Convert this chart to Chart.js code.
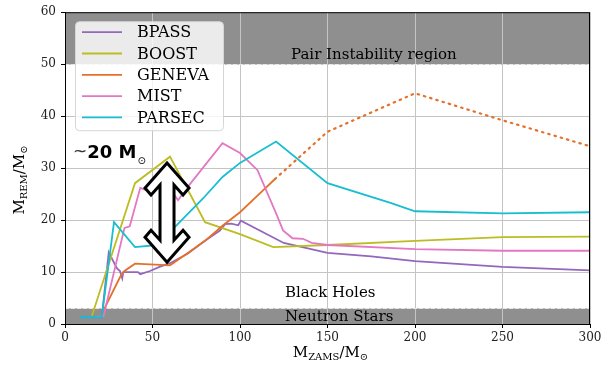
<!DOCTYPE html>
<html>
<head>
<meta charset="utf-8">
<script src="https://cdn.jsdelivr.net/npm/chart.js@4/dist/chart.umd.min.js"></script>
<style>
  html, body { margin: 0; padding: 0; background: #fff; }
  #wrap { width: 608px; height: 367px; }
</style>
</head>
<body>
<div id="wrap"><canvas id="chart"></canvas></div>
<script>
'use strict';

// remnant mass vs ZAMS mass
const bpassX = [9, 21, 25, 29.7, 31.4, 32.7, 33.3, 41.7, 43, 48.6, 54, 60, 70, 80, 88.5, 91.5, 95, 99, 100.5, 125, 150, 175, 200, 250, 300];
const bpassY = [1.3, 1.3, 13.8, 10.7, 10.2, 8.8, 10, 10, 9.6, 10.2, 11, 11.7, 13.5, 16, 18, 19.2, 19.3, 19, 19.9, 15.6, 13.7, 13.0, 12.1, 11.0, 10.3];

const boostX = [15.4, 40, 60, 77, 80, 100, 119, 150, 200, 250, 300];
const boostY = [1.6, 27.1, 32.2, 21.5, 19.6, 17.3, 14.8, 15.2, 16.0, 16.7, 16.8];

const genevaX = [21, 23, 31.4, 34, 40, 60, 70, 80, 90, 100, 110, 120];
const genevaY = [1.3, 3.3, 9, 10.2, 11.6, 11.3, 13.6, 16.0, 18.9, 21.5, 24.7, 27.9];
// extrapolated part (dotted)
const genevaExtX = [120, 150, 200, 250, 300];
const genevaExtY = [27.9, 37, 44.4, 39.2, 34.2];

const mistX = [18, 22, 34, 37, 43, 46, 55.6, 64.6, 69.7, 90, 100, 110, 121, 124.6, 130, 136, 141, 150, 200, 250, 300];
const mistY = [1.3, 1.5, 18.5, 18.8, 26.2, 25.8, 28.1, 23.8, 26.2, 34.8, 32.9, 29.6, 21, 18, 16.5, 16.4, 15.6, 15.2, 14.4, 14.1, 14.1];

const parsecX = [8.5, 21, 28, 40, 52.6, 79, 90, 100, 120.6, 150, 186, 200, 250, 300];
const parsecY = [1.3, 1.3, 19.6, 14.8, 15.2, 24.2, 28.3, 31, 35.1, 27.1, 23.3, 21.7, 21.3, 21.5];

const seriesNames = ['BPASS', 'BOOST', 'GENEVA', 'MIST', 'PARSEC'];
const seriesColors = ['#9467bd', '#bcbd22', '#e4702a', '#e377c2', '#17becf'];

const xTicks = [0, 50, 100, 150, 200, 250, 300];
const yTicks = [0, 10, 20, 30, 40, 50, 60];

// shaded regions (y ranges)
const pairRegion = [50, 60];
const nsRegion = [0, 3];

function toPoints(xs, ys) {
  return xs.map((x, i) => ({ x: x, y: ys[i] }));
}

const serif = '"DejaVu Serif", serif';

const bgPlugin = {
  id: 'bands',
  beforeDraw(chart) {
    const { ctx, chartArea: a, scales: { y } } = chart;
    ctx.save();
    ctx.fillStyle = '#fff';
    ctx.fillRect(0, 0, chart.width, chart.height);
    ctx.fillStyle = '#8f8f8f';
    [pairRegion, nsRegion].forEach(r => {
      const top = y.getPixelForValue(r[1]);
      const bot = y.getPixelForValue(r[0]);
      ctx.fillRect(a.left, top, a.right - a.left, bot - top);
    });
    ctx.restore();
  },
  beforeDatasetsDraw(chart) {
    const { ctx, chartArea: a, scales: { y } } = chart;
    ctx.save();
    ctx.strokeStyle = '#e6e6e6';
    ctx.lineWidth = 1;
    ctx.setLineDash([4, 2]);
    [pairRegion[0], nsRegion[1]].forEach(v => {
      const py = Math.round(y.getPixelForValue(v)) + 0.5;
      ctx.beginPath();
      ctx.moveTo(a.left, py);
      ctx.lineTo(a.right, py);
      ctx.stroke();
    });
    ctx.restore();
  }
};

function drawArrow(ctx, cx, yTop, yBot) {
  const hw = 22, sw = 7, hh = 25, th = 8;
  ctx.beginPath();
  ctx.moveTo(cx, yTop);
  ctx.lineTo(cx + hw, yTop + hh);
  ctx.lineTo(cx + hw - 6, yTop + hh + 7);
  ctx.lineTo(cx + sw, yTop + hh - 3);
  ctx.lineTo(cx + sw, yBot - hh + 3);
  ctx.lineTo(cx + hw - 6, yBot - hh - 7);
  ctx.lineTo(cx + hw, yBot - hh);
  ctx.lineTo(cx, yBot);
  ctx.lineTo(cx - hw, yBot - hh);
  ctx.lineTo(cx - hw + 6, yBot - hh - 7);
  ctx.lineTo(cx - sw, yBot - hh + 3);
  ctx.lineTo(cx - sw, yTop + hh - 3);
  ctx.lineTo(cx - hw + 6, yTop + hh + 7);
  ctx.lineTo(cx - hw, yTop + hh);
  ctx.closePath();
  ctx.fillStyle = '#fff';
  ctx.fill();
  ctx.lineJoin = 'miter';
  ctx.lineWidth = 3;
  ctx.strokeStyle = '#000';
  ctx.stroke();
}

// write "M" with a subscript, returns end x
function drawSub(ctx, x, y, main, sub) {
  ctx.font = '15px ' + serif;
  ctx.fillText(main, x, y);
  x += ctx.measureText(main).width;
  ctx.font = '10px ' + serif;
  ctx.fillText(sub, x, y + 3);
  return x + ctx.measureText(sub).width;
}

function drawTitle(ctx, parts) {
  // measure first
  let w = 0;
  parts.forEach(p => {
    ctx.font = '15px ' + serif;
    w += ctx.measureText(p[0]).width;
    ctx.font = '10px ' + serif;
    w += ctx.measureText(p[1]).width;
  });
  let x = -w / 2;
  parts.forEach(p => { x = drawSub(ctx, x, 0, p[0], p[1]); });
}

const overlayPlugin = {
  id: 'overlay',
  afterDatasetsDraw(chart) {
    const { ctx, chartArea: a, scales: { x, y } } = chart;
    ctx.save();

    // frame top and right
    ctx.strokeStyle = '#000';
    ctx.lineWidth = 1;
    ctx.strokeRect(a.left + 0.5, a.top + 0.5, a.right - a.left - 1, a.bottom - a.top);

    // region labels
    ctx.fillStyle = '#000';
    ctx.textBaseline = 'middle';
    ctx.font = '15px ' + serif;
    ctx.textAlign = 'center';
    ctx.fillText('Pair Instability region', x.getPixelForValue(176.5), y.getPixelForValue(51.8));
    ctx.textAlign = 'left';
    ctx.fillText('Black Holes', x.getPixelForValue(125.7), y.getPixelForValue(6));
    ctx.fillText('Neutron Stars', x.getPixelForValue(125.7), y.getPixelForValue(1.4));

    // double arrow marking the ~20 Msun spread
    drawArrow(ctx, x.getPixelForValue(58.3), y.getPixelForValue(31), y.getPixelForValue(11.9));

    // ~20 M_sun label
    let tx = x.getPixelForValue(4.6);
    const ty = y.getPixelForValue(32.9);
    ctx.textAlign = 'left';
    ctx.fillStyle = '#334';
    ctx.font = '17px "DejaVu Sans", sans-serif';
    ctx.fillText('~', tx, ty);
    tx += ctx.measureText('~').width;
    ctx.fillStyle = '#000';
    ctx.font = 'bold 18px "DejaVu Sans", sans-serif';
    ctx.fillText('20 M', tx, ty);
    tx += ctx.measureText('20 M').width;
    ctx.font = '10px "DejaVu Sans", sans-serif';
    ctx.fillText('⊙', tx + 1, ty + 8);

    // legend
    const lx = a.left + 10, ly = a.top + 9, lw = 148, lh = 109;
    ctx.beginPath();
    ctx.roundRect(lx + 0.5, ly + 0.5, lw, lh, 4);
    ctx.fillStyle = 'rgba(255,255,255,0.82)';
    ctx.fill();
    ctx.strokeStyle = '#d6d6d6';
    ctx.lineWidth = 1;
    ctx.stroke();
    ctx.font = '16px ' + serif;
    seriesNames.forEach((name, i) => {
      const ry = ly + 11 + i * 21.3;
      ctx.strokeStyle = seriesColors[i];
      ctx.lineWidth = 1.8;
      ctx.beginPath();
      ctx.moveTo(lx + 7, ry);
      ctx.lineTo(lx + 47, ry);
      ctx.stroke();
      ctx.fillStyle = '#000';
      ctx.fillText(name, lx + 62, ry + 1);
    });

    ctx.restore();
  },
  afterDraw(chart) {
    const { ctx, chartArea: a } = chart;
    ctx.save();
    ctx.fillStyle = '#000';
    ctx.textBaseline = 'alphabetic';
    ctx.textAlign = 'left';
    // x title
    ctx.translate((a.left + a.right) / 2 + 3, 357);
    drawTitle(ctx, [['M', 'ZAMS'], ['/M', '⊙']]);
    ctx.restore();
    ctx.save();
    ctx.fillStyle = '#000';
    ctx.textAlign = 'left';
    ctx.translate(24, 180);
    ctx.rotate(-Math.PI / 2);
    drawTitle(ctx, [['M', 'REM'], ['/M', '⊙']]);
    ctx.restore();
  }
};

function renderChart() {
  const lineBase = { fill: false, tension: 0, pointRadius: 0, borderWidth: 1.8 };
  const allX = [bpassX, boostX, genevaX, mistX, parsecX];
  const allY = [bpassY, boostY, genevaY, mistY, parsecY];

  const datasets = seriesNames.map((name, i) => Object.assign({}, lineBase, {
    label: name,
    data: toPoints(allX[i], allY[i]),
    borderColor: seriesColors[i],
    order: 5 - i,
  }));
  datasets.push(Object.assign({}, lineBase, {
    label: 'GENEVA (extrapolated)',
    data: toPoints(genevaExtX, genevaExtY),
    borderColor: seriesColors[2],
    borderWidth: 2.2,
    borderDash: [1.5, 5],
    borderCapStyle: 'round',
    order: 3,
  }));

  const tickFont = { family: '"DejaVu Serif", serif', size: 12 };

  new Chart(document.getElementById('chart'), {
    type: 'line',
    data: { datasets: datasets },
    options: {
      responsive: true,
      maintainAspectRatio: false,
      animation: false,
      layout: { padding: { left: 0, right: 18, top: 12, bottom: 0 } },
      plugins: { legend: { display: false }, tooltip: { enabled: false } },
      scales: {
        x: {
          type: 'linear',
          min: 0,
          max: 300,
          afterBuildTicks: s => { s.ticks = xTicks.map(v => ({ value: v })); },
          afterFit: s => { s.height = 43; },
          ticks: { color: '#222', font: tickFont, padding: 3, maxRotation: 0 },
          grid: { color: '#c4c4c4', lineWidth: 1, tickLength: 4, tickColor: '#000' },
          border: { color: '#000', width: 1 },
        },
        y: {
          type: 'linear',
          min: 0,
          max: 60,
          afterBuildTicks: s => { s.ticks = yTicks.map(v => ({ value: v })); },
          afterFit: s => { s.width = 65; },
          ticks: { color: '#222', font: tickFont, padding: 5 },
          grid: { color: '#c4c4c4', lineWidth: 1, tickLength: 4, tickColor: '#000' },
          border: { color: '#000', width: 1 },
        },
      },
    },
    plugins: [bgPlugin, overlayPlugin],
  });
}

renderChart();
</script>
</body>
</html>
